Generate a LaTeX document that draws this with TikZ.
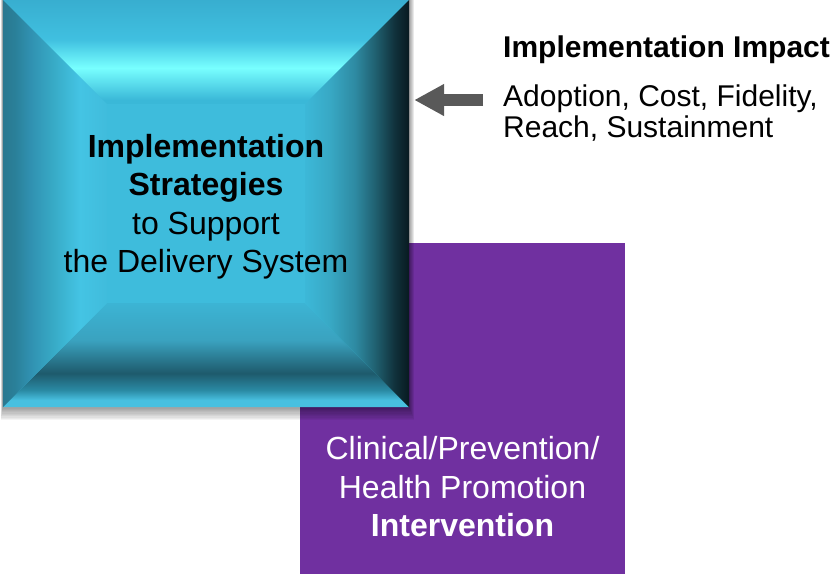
\documentclass[tikz,border=0pt]{standalone}
\usepackage{fontspec}
\setmainfont{Liberation Sans}
\usetikzlibrary{calc}
\usetikzlibrary{positioning}
\usetikzlibrary{arrows.meta}
\definecolor{facecyan}{HTML}{3EBCDC}
\definecolor{intervpurple}{HTML}{7030A0}
\definecolor{arrowgray}{HTML}{595959}
\definecolor{tA}{HTML}{38AED0}
\definecolor{tB}{HTML}{40C0E0}
\definecolor{tC}{HTML}{78FFFF}
\definecolor{tD}{HTML}{3AB8D8}
\definecolor{bA}{HTML}{3CB4D4}
\definecolor{bB}{HTML}{3AA2BF}
\definecolor{bC}{HTML}{1E5A6C}
\definecolor{bD}{HTML}{2A8AA4}
\definecolor{bE}{HTML}{48C0E0}
\definecolor{lA}{HTML}{2A7890}
\definecolor{lB}{HTML}{2A8099}
\definecolor{lC}{HTML}{3090B0}
\definecolor{lD}{HTML}{38ACC8}
\definecolor{lE}{HTML}{44C4E4}
\definecolor{lF}{HTML}{40BCDC}
\definecolor{rA}{HTML}{3CB8D8}
\definecolor{rB}{HTML}{38A8C4}
\definecolor{rC}{HTML}{2E8AA2}
\definecolor{rD}{HTML}{206070}
\definecolor{rE}{HTML}{10303A}
\definecolor{rF}{HTML}{081A20}
\pgfdeclareverticalshading{beveltop}{100bp}{color(0bp)=(tD); color(25bp)=(tD);
  color(26.9bp)=(tD); color(42.3bp)=(tC); color(55.8bp)=(tB); color(75bp)=(tA); color(100bp)=(tA)}
\pgfdeclareverticalshading{bevelbottom}{100bp}{color(0bp)=(bE); color(25bp)=(bE);
  color(28.4bp)=(bE); color(33.2bp)=(bD); color(41.3bp)=(bC); color(57.2bp)=(bB); color(75bp)=(bA); color(100bp)=(bA)}
\pgfdeclarehorizontalshading{bevelleft}{100bp}{color(0bp)=(lA); color(25bp)=(lA);
  color(30.8bp)=(lB); color(38bp)=(lC); color(50bp)=(lD); color(62bp)=(lE); color(75bp)=(lF); color(100bp)=(lF)}
\pgfdeclarehorizontalshading{bevelright}{100bp}{color(0bp)=(rA); color(25bp)=(rA);
  color(37bp)=(rB); color(49bp)=(rC); color(58.7bp)=(rD); color(68.3bp)=(rE); color(75bp)=(rF); color(100bp)=(rF)}
\tikzset{sqbox/.style={rectangle, minimum width=406pt, minimum height=407pt, inner sep=0pt},
intervbox/.style={rectangle, fill=intervpurple, minimum width=325pt, minimum height=331pt, inner sep=0pt},
bigtext/.style={align=center, inner sep=0pt, font=\fontsize{32}{38.5}\selectfont},
intervtext/.style={bigtext, text=white},
impacttext/.style={align=left, inner sep=0pt, anchor=north west, font=\fontsize{30}{31}\selectfont},
impactarrow/.style={draw=arrowgray, line width=12pt, shorten >=5pt},
>={Triangle[length=30pt,width=30pt]}}
\begin{document}
\begin{tikzpicture}[x=1pt,y=-1pt]
  \useasboundingbox (0,0) rectangle (837,574);
  \node (interv) [intervbox] at (462.5,408.5) {};
  \node (sq) [sqbox] at (206,203.5) {};
  % soft shadow under the square
  \foreach \s in {1,...,10}
    \fill [black,opacity=0.045] ($(sq.north west)+(-0.2*\s,0)$) rectangle ($(sq.south east)+(0.5*\s,1.3*\s)$);
  \coordinate (a) at ($(sq.north west)+(104,104)$);
  \coordinate (b) at ($(sq.north east)+(-104,104)$);
  \coordinate (c) at ($(sq.south east)+(-104,-104)$);
  \coordinate (d) at ($(sq.south west)+(104,-104)$);
  \fill [facecyan] (sq.north west) rectangle (sq.south east);
  \shade [shading=beveltop] (sq.north west) -- (sq.north east) -- (b) -- (a) -- cycle;
  \shade [shading=bevelbottom] (sq.south west) -- (sq.south east) -- (c) -- (d) -- cycle;
  \shade [shading=bevelleft] (sq.north west) -- (a) -- (d) -- (sq.south west) -- cycle;
  \shade [shading=bevelright] (sq.north east) -- (b) -- (c) -- (sq.south east) -- cycle;
  \node (strat) [bigtext] at (206,206.6) {\textbf{Implementation}\\\textbf{Strategies}\\to Support\\the Delivery System};
  \node (intervlabel) [intervtext] at (462.5,486.8) {Clinical/Prevention/\\Health Promotion\\\textbf{Intervention}};
  \node (impact) [impacttext] at (503,35.5) {\textbf{Implementation Impact}};
  \node (metrics) [impacttext] at (503,84.3) {Adoption, Cost, Fidelity,\\Reach, Sustainment};
  \coordinate (arrowtail) at (483,100);
  \draw [impactarrow,->] (arrowtail) -- (arrowtail -| sq.east);
\end{tikzpicture}
\end{document}
